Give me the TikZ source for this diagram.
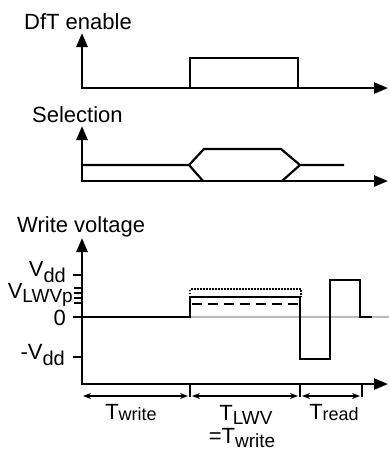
\documentclass[tikz,border=0pt]{standalone}
\usepackage{fontspec}
\setmainfont{Liberation Sans}
\usetikzlibrary{arrows.meta}
\newcommand\sbx[3][4pt]{\raisebox{-#1}{\fontsize{#2}{#2}\selectfont #3}}
\begin{document}
\begin{tikzpicture}[x=1pt,y=-1pt,
  axis/.style={line width=2.6pt,{Triangle[length=14pt,width=11pt]}-{Triangle[length=14pt,width=11pt]}},
  sig/.style={line width=2.2pt},
  tickmark/.style={line width=1.9pt},
  lbl/.style={font=\fontsize{22}{24}\selectfont, inner sep=0pt},
  dim/.style={line width=1.4pt,{Stealth[length=8pt,width=6pt]}-{Stealth[length=8pt,width=6pt]}}]
\useasboundingbox (0,0) rectangle (389,451);
% ---------- DfT enable ----------
\node[lbl,anchor=base west] (dft) at (24,29) {DfT enable};
\coordinate (o1) at (82,88);
\draw[axis] (82,33) -- (o1) -- (388,88);
\draw[sig] (190,88) -- (190,58) -- (298,58) -- (298,88);
% ---------- Selection ----------
\node[lbl,anchor=base west] (sel) at (32,122) {Selection};
\coordinate (o2) at (82,181);
\draw[axis] (82,126) -- (o2) -- (388,181);
\draw[sig,line join=miter] (82,165) -- (189,165) -- (204,149) -- (281,149) -- (300,165) -- (344,165);
\draw[sig] (189,165) -- (203,181);
\draw[sig] (282,181) -- (300,165);
% ---------- Write voltage ----------
\node[lbl,anchor=base west] (wv) at (17,232) {Write voltage};
\draw[gray!55, line width=1.3pt] (82,317) -- (389,317);
\coordinate (o3) at (82,384);
\draw[axis] (82,238) -- (o3) -- (388,384);
% ticks
\draw[tickmark] (73,275) -- (82,275);
\foreach \yy in {288,293,298,303} \draw[line width=1.4pt] (74,\yy) -- (82,\yy);
\draw[tickmark] (73,317) -- (82,317);
\draw[tickmark] (73,357) -- (82,357);
% levels
\draw[line width=1.8pt, dash pattern=on 1.5pt off 1.5pt] (190,297) -- (190,289) -- (301,289) -- (301,297);
\draw[line width=2.2pt, dash pattern=on 10pt off 6pt] (192,304) -- (300,304);
\draw[sig] (82,317) -- (190,317) -- (190,297) -- (300,297) -- (300,359) -- (330,359) -- (330,280) -- (360,280) -- (360,317) -- (372,317);
% labels
\node[lbl,anchor=base east] (vdd) at (66,276) {V\sbx[6pt]{20}{dd}};
\node[lbl,anchor=base east] (vlwv) at (73,298) {V\sbx{19}{LWVp}};
\node[lbl,anchor=base east] (zero) at (66,325) {0};
\node[lbl,anchor=base east] (mvdd) at (65,359) {-V\sbx[6pt]{20}{dd}};
% time spans
\draw[tickmark] (190,384) -- (190,397);
\draw[tickmark] (300,384) -- (300,397);
\draw[tickmark] (362,384) -- (362,397);
\draw[dim] (83,396) -- (188,396);
\draw[dim] (192,396) -- (298,396);
\draw[dim] (302,396) -- (360,396);
\node[lbl,anchor=base] (tw) at (131,419) {T\sbx[1pt]{18}{write}};
\node[lbl,anchor=base] (tl) at (246,420) {T\sbx{19}{LWV}};
\node[lbl,anchor=base] (tw2) at (242,443) {=T\sbx{19}{write}};
\node[lbl,anchor=base] (tr) at (334,419) {T\sbx[1pt]{18}{read}};
\end{tikzpicture}
\end{document}
